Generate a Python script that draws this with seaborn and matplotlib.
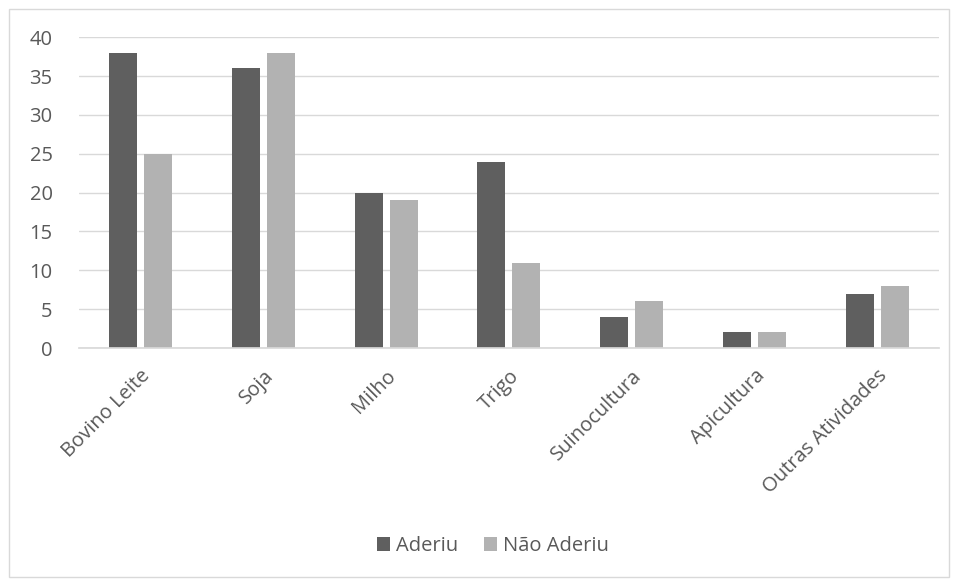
import matplotlib
matplotlib.use("Agg")
import matplotlib.pyplot as plt
import seaborn as sns
import pandas as pd
from matplotlib.patches import Rectangle

categories = ["Bovino Leite", "Soja", "Milho", "Trigo", "Suinocultura", "Apicultura", "Outras Atividades"]
aderiu = [38, 36, 20, 24, 4, 2, 7]
nao_aderiu = [25, 38, 19, 11, 6, 2, 8]
series_names = ["Aderiu", "Não Aderiu"]
y_ticks = [0, 5, 10, 15, 20, 25, 30, 35, 40]

df = pd.DataFrame({
    "Atividade": categories * 2,
    "Valor": aderiu + nao_aderiu,
    "Serie": [series_names[0]] * len(categories) + [series_names[1]] * len(categories),
})

sns.set_theme(style="white")
plt.rcParams['font.family'] = ['Open Sans', 'DejaVu Sans']
txt = "#595959"
fs = 14.5

fig = plt.figure(figsize=(9.59, 5.81), dpi=100)
ax = fig.add_axes([0.0824, 0.401, 0.979 - 0.0824, 0.936 - 0.401])

sns.barplot(data=df, x="Atividade", y="Valor", hue="Serie", order=categories,
            hue_order=series_names, palette=["#5f5f5f", "#b2b2b2"],
            width=0.57, gap=0.2, ax=ax, legend=True, saturation=1, linewidth=0)

ax.set_ylim(0, 40)
ax.set_xlim(-0.5, len(categories) - 0.5)
ax.set_yticks(y_ticks)
ax.set_yticklabels([str(v) for v in y_ticks], color=txt, fontsize=fs)
ax.set_xlabel("")
ax.set_ylabel("")
ax.yaxis.grid(True, color="#d9d9d9", linewidth=1)
ax.set_axisbelow(True)
for s in ["top", "right", "left"]:
    ax.spines[s].set_visible(False)
ax.spines["bottom"].set_color("#d9d9d9")
ax.tick_params(axis="x", length=0, pad=13)
ax.tick_params(axis="y", length=0, pad=19)
plt.setp(ax.get_xticklabels(), rotation=45, ha="right", rotation_mode="anchor",
         color=txt, fontsize=fs)

leg = ax.legend(loc="center", bbox_to_anchor=(0.514, 0.06), bbox_transform=fig.transFigure,
                ncol=2, frameon=False, fontsize=fs, handlelength=0.65, handleheight=0.65,
                handletextpad=0.3, columnspacing=1.3)
for t in leg.get_texts():
    t.set_color(txt)

fig.patches.append(Rectangle((0.0094, 0.0069), 0.980, 0.9776, transform=fig.transFigure,
                             fill=False, edgecolor="#d9d9d9", linewidth=1))

fig.savefig("out.png", dpi=100, facecolor="white")
